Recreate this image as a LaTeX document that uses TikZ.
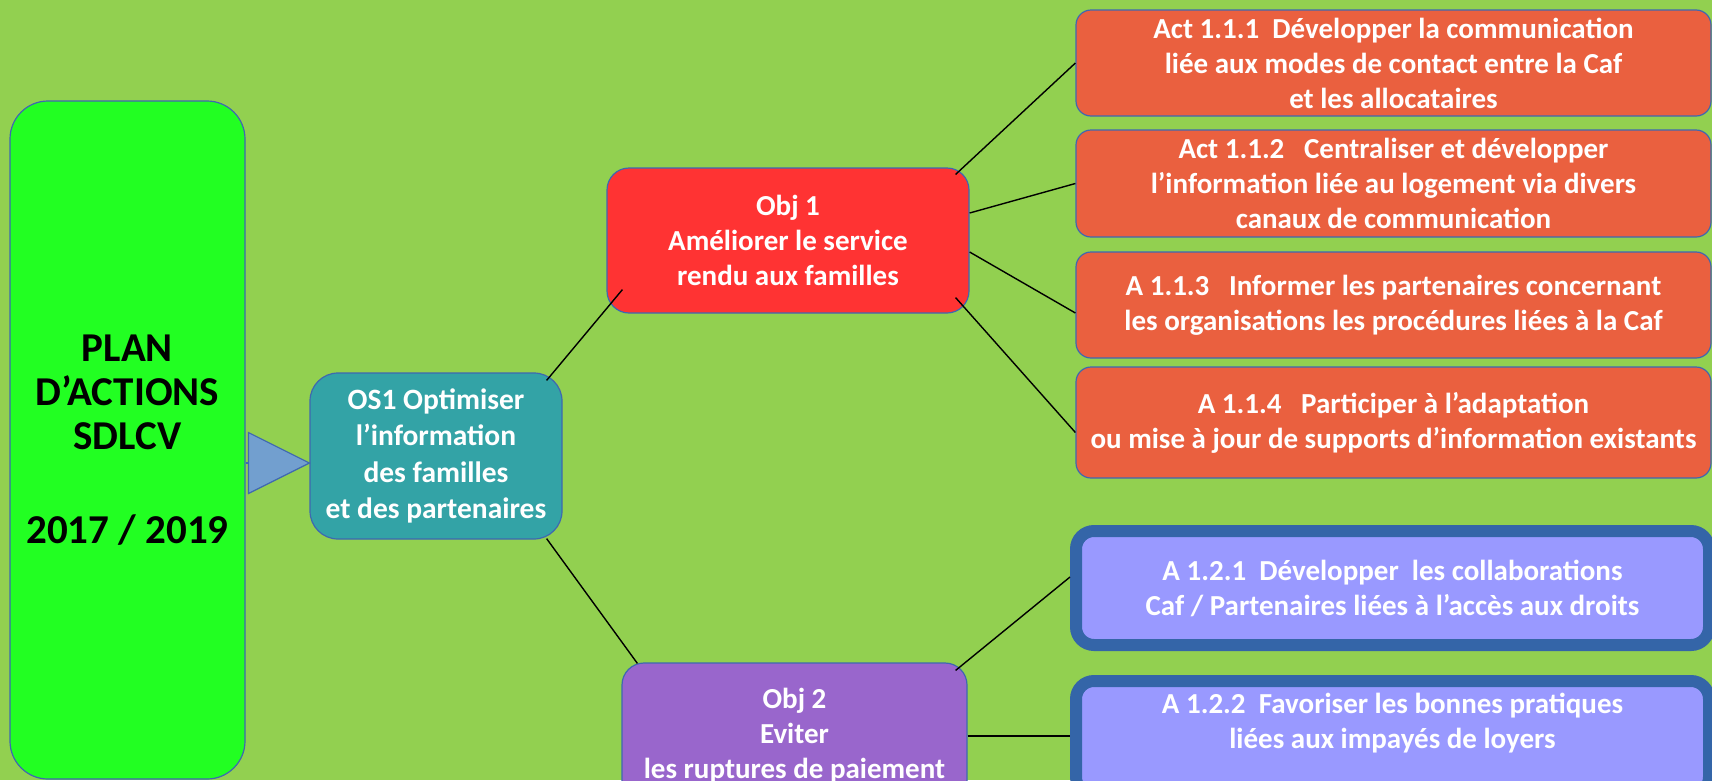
\documentclass[tikz,border=0pt]{standalone}
\usepackage{fontspec}
\setmainfont{Carlito}
\usetikzlibrary{calc}

\definecolor{fond}{HTML}{92D050}
\definecolor{vertplan}{HTML}{22FF22}
\definecolor{bordbleu}{HTML}{3F68B0}
\definecolor{fleche}{HTML}{729FCF}
\definecolor{sarcelle}{HTML}{33A3A6}
\definecolor{rougeobj}{HTML}{FF3333}
\definecolor{rougeact}{HTML}{EA603F}
\definecolor{violetobj}{HTML}{9966CC}
\definecolor{bleuact}{HTML}{9999FF}
\definecolor{bleufonce}{HTML}{3465A8}

\tikzset{
  boite/.style={draw=bordbleu, line width=1.2pt, text=white, align=center,
    inner sep=0pt, font=\bfseries\fontsize{29}{35}\selectfont},
  planbox/.style={draw=bordbleu, line width=1.2pt, fill=vertplan,
    rounded corners=38pt, minimum width=235pt, minimum height=678pt},
  plantexte/.style={align=center, inner sep=0pt,
    font=\bfseries\fontsize{41}{44}\selectfont},
  osbox/.style={boite, fill=sarcelle, rounded corners=28pt,
    minimum width=252pt, minimum height=166pt,
    font=\bfseries\fontsize{29.5}{36.5}\selectfont},
  objbox/.style={boite, rounded corners=22pt, minimum height=145pt},
  actbox/.style={boite, fill=rougeact, rounded corners=15pt, minimum width=635pt},
  actbleu/.style={boite, fill=bleuact, draw=bleufonce, line width=12pt,
    rounded corners=18pt, minimum width=633pt, minimum height=114pt},
  pointe/.style={draw=bordbleu, line width=1.2pt, fill=fleche, line join=miter},
  lien/.style={black, line width=1.4pt}
}

\begin{document}
\begin{tikzpicture}[x=1pt,y=-1pt]
                \path[use as bounding box] (0,0) rectangle (1712,780);
                \fill[fond] (0,0) rectangle (1712,780);
                \clip (0,0) rectangle (1712,780);

                \node[planbox] (P) at (127.5,440) {};
                \node[plantexte] (T) at (P.center)
                  {PLAN\\D’ACTIONS\\SDLCV\\[50pt]2017 / 2019};

                \node[osbox] (S) at (436,456)
                  {OS1 Optimiser\\l’information\\des familles\\et des partenaires};

                \coordinate (F) at ($(S.west)+(0,7)$);
                \draw[bordbleu, line width=1.2pt] (F -| P.east) -- ++(4,0);
                \draw[pointe] (F) -- ++(-61,-30.5) -- ++(0,61) -- cycle;

                \node[objbox, fill=rougeobj, minimum width=362pt] (O1) at (788,240.5)
                  {Obj 1\\Améliorer le service\\rendu aux familles};
                \node[objbox, fill=violetobj, minimum width=345pt] (O2) at (794.5,735.5)
                  {Obj 2\\Eviter\\les ruptures de paiement};

                \node[actbox, minimum height=106pt] (A1) at (1393.5,63)
                  {Act 1.1.1\ \ Développer la communication\\liée aux modes de contact entre la Caf\\et les allocataires};
                \node[actbox, minimum height=107pt] (A2) at (1393.5,183.5)
                  {Act 1.1.2\ \ \ Centraliser et développer\\l’information liée au logement via divers\\canaux de communication};
                \node[actbox, minimum height=106pt] (A3) at (1393.5,305)
                  {A 1.1.3\ \ \ Informer les partenaires concernant\\les organisations les procédures liées à la Caf};
                \node[actbox, minimum height=111pt] (A4) at (1393.5,422.5)
                  {A 1.1.4\ \ \ Participer à l’adaptation\\ou mise à jour de supports d’information existants};

                \node[actbleu] (B1) at (1392.5,588)
                  {A 1.2.1\ \ Développer\ \ les collaborations\\Caf / Partenaires liées à l’accès aux droits};
                \node[actbleu] (B2) at (1392.5,738)
                  {A 1.2.2\ \ Favoriser les bonnes pratiques\\liées aux impayés de loyers\\\mbox{}};

                \draw[lien] ($(S.north east)+(-16,8)$) -- ($(O1.south west)+(16,-24)$);
                \draw[lien] ($(S.south east)+(-16,-1)$) -- ($(O2.north west)+(16,1)$);

                \draw[lien] ($(O1.north east)+(-14,7)$) -- (A1.west);
                \draw[lien] ($(O1.east)+(0,-27.5)$) -- (A2.west);
                \draw[lien] ($(O1.east)+(0,11.5)$) -- ($(A3.west)+(0,8)$);
                \draw[lien] ($(O1.south east)+(-14,-16)$) -- ($(A4.west)+(0,10)$);

                \draw[lien] ($(O2.north east)+(-12,8)$) -- ($(B1.west)+(0,-11)$);
                \draw[lien, line width=2pt] (O2.east) -- (O2.east -| B1.west);
\end{tikzpicture}
\end{document}
